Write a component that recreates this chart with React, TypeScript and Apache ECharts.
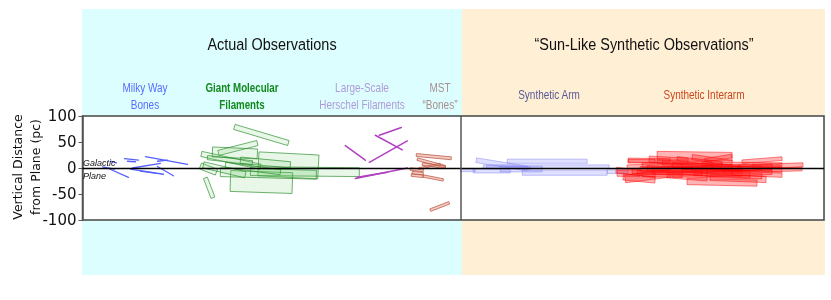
import { useEffect, useRef } from "react";
import * as echarts from "echarts";

// ---------- data ----------
const Y_MIN = -100;
const Y_MAX = 100;
const Y_STEP = 50;
const X_MIN = 0;
const X_MAX = 742;
const DIVIDER_X = 379;

// lines: [x1, y1, x2, y2]  (y in pc)
const milkyWayBones = [
  [28, 13, 34, 10],
  [42, 18, 56, 15],
  [45, 13, 53, 12],
  [63, 22, 105, 7],
  [75, 13, 85, 15],
  [26, -1, 46, -18],
  [48, -2, 81, -12],
  [50, 0, 78, 9],
  [75, 3, 91, -15],
  [58, -6, 73, -10],
  [20, 2, 32, -2],
];

const herschelFilaments = [
  [263, 43, 283, 15],
  [293, 63, 320, 35],
  [297, 63, 319, 78],
  [287, 11, 325, 52],
  [273, -20, 325, 0],
  [275, -18, 305, -8],
];

// rectangles: [x1, y1, x2, y2, thickness(pc)]
const giantMolecularFilaments = [
  [152, 79, 206, 48, 10],
  [176, 8, 236, 2, 46],
  [148, -25, 210, -29, 40],
  [123, -19, 130.5, -57, 8],
  [119, 27, 178, 2.5, 10],
  [136, 29, 175, 48, 10],
  [168, -6, 277, -8, 17],
  [138, -8, 234, -13, 17],
  [118, 4, 134, -8, 12],
  [130, 31, 175, 27, 19],
  [143, 6, 198, -8, 10],
  [121, 6, 163, -13, 12],
  [158, 15, 208, 6, 12],
  [125, 20, 170, 10, 8],
];

const mstBones = [
  [334, 25, 369, 18.6, 5.5],
  [335, 17, 363, 2.5, 5],
  [340, 7.7, 363, 1.3, 5],
  [328, -2, 341, -4.5, 5],
  [329, -13.5, 341, -16, 5],
  [341, -15.4, 361, -23, 4.5],
  [348, -81, 367, -67, 5],
  [336, -1.3, 358, 7.7, 3],
  [330, -9, 341, -11, 5],
];

const syntheticArm = [
  [394, 15, 445, -1, 9],
  [425, 13, 505, 13, 8],
  [401, 2.5, 527, 2.5, 7],
  [391, -6, 428, -6, 7],
  [418, -2, 460, -2, 11],
  [440, -9, 525, -9, 10],
  [378, -5, 393, -5, 4],
  [525, -7, 546, -7, 7],
  [404, 2, 448, 0, 5],
];

const syntheticInterarm = [
  [575, 24, 650, 22, 16],
  [546, 15, 588, 14, 8],
  [567, 17, 606, 13, 12],
  [610, 21, 650, 10, 10],
  [623, 15, 650, 23, 7],
  [670, 3, 721, 6, 8],
  [656, 3, 698, 3, 6],
  [605, -26, 675, -29, 12],
  [628, -18, 684, -22, 12],
  [543, -21, 588, -10, 15],
  [535, -10, 558, -10, 12],
  [558, -2, 658, -2, 10],
  [546, 13, 573, 13, 7],
  [534, -4, 573, -13, 11],
  [541, -17, 573, -23, 12],
  [560, 5, 640, 3, 10],
  [570, -6, 660, -10, 12],
  [580, 10, 660, 0, 8],
  [590, -12, 680, -16, 10],
  [600, 2, 700, -4, 9],
  [550, -6, 610, -2, 10],
  [620, 8, 700, 6, 8],
  [545, 2, 600, 5, 8],
  [640, -6, 720, -2, 7],
  [595, 18, 640, 8, 8],
  [612, -8, 668, -12, 14],
  [660, 12, 700, 18, 7],
  [585, -14, 625, -20, 10],
  [630, 0, 690, 2, 12],
  [600, -4, 650, -8, 8],
  [560, -12, 600, -14, 9],
  [650, -10, 700, -14, 8],
  [565, 0, 625, -6, 10],
  [590, 6, 650, 2, 9],
  [610, -2, 680, 0, 8],
  [555, -8, 620, -10, 8],
  [625, -12, 690, -8, 9],
  [575, 12, 630, 8, 7],
];

const SECTION_TITLES = ["Actual Observations", "\u201cSun-Like Synthetic Observations\u201d"];
const GROUP_LABELS = [
  "Milky Way\nBones",
  "Giant Molecular\nFilaments",
  "Large-Scale\nHerschel Filaments",
  "MST\n\u201cBones\u201d",
  "Synthetic Arm",
  "Synthetic Interarm",
];
const PLANE_LABELS = ["Galactic", "Plane"];
const Y_AXIS_TITLE = "Vertical Distance\nfrom Plane (pc)";

// ---------- layout / style ----------
const SANS = '"Liberation Sans", Arial, sans-serif';
const GROUP_LAYOUT = [
  { x: 145, y: 96.5, color: "#5a6cff", weight: "normal", sx: 0.8 },
  { x: 242, y: 96.5, color: "#138a1e", weight: "bold", sx: 0.78 },
  { x: 362, y: 96.5, color: "#b09ad8", weight: "normal", sx: 0.8 },
  { x: 440, y: 96, color: "#a89090", weight: "normal", sx: 0.8 },
  { x: 549, y: 95, color: "#5a5a9a", weight: "normal", sx: 0.8 },
  { x: 704, y: 95, color: "#c8481e", weight: "normal", sx: 0.8 },
];
const TITLE_LAYOUT = [
  { x: 272, y: 44 },
  { x: 644, y: 44 },
];

function lineItem(stroke: string, lw: number) {
  return (_p: any, api: any) => {
    const a = api.coord([api.value(0), api.value(1)]);
    const b = api.coord([api.value(2), api.value(3)]);
    return {
      type: "line",
      shape: { x1: a[0], y1: a[1], x2: b[0], y2: b[1] },
      style: { stroke, lineWidth: lw, lineCap: "round" },
    };
  };
}

function rectItem(fill: string, stroke: string, lw: number) {
  return (_p: any, api: any) => {
    const a = api.coord([api.value(0), api.value(1)]);
    const b = api.coord([api.value(2), api.value(3)]);
    const h = Math.abs(api.size([0, api.value(4)])[1]) / 2;
    const dx = b[0] - a[0];
    const dy = b[1] - a[1];
    const len = Math.hypot(dx, dy) || 1;
    const nx = (-dy / len) * h;
    const ny = (dx / len) * h;
    return {
      type: "polygon",
      shape: {
        points: [
          [a[0] + nx, a[1] + ny],
          [b[0] + nx, b[1] + ny],
          [b[0] - nx, b[1] - ny],
          [a[0] - nx, a[1] - ny],
        ],
      },
      style: { fill, stroke, lineWidth: lw },
    };
  };
}

function customSeries(name: string, data: number[][], renderItem: any, z: number) {
  return {
    type: "custom",
    name,
    data,
    z,
    silent: true,
    encode: { x: [0, 2], y: [1, 3] },
    renderItem,
  };
}

export default function App() {
  const ref = useRef<HTMLDivElement>(null);
  useEffect(() => {
    if (!ref.current) return;
    const chart = echarts.init(ref.current, null, { renderer: "svg" });
    const graphic: any[] = [
      { type: "rect", z: -10, shape: { x: 82, y: 9, width: 380, height: 266 }, style: { fill: "#dcfefe" } },
      { type: "rect", z: -10, shape: { x: 462, y: 9, width: 363, height: 266 }, style: { fill: "#fff0d5" } },
    ];
    SECTION_TITLES.forEach((t, i) => {
      graphic.push({
        type: "text",
        x: TITLE_LAYOUT[i].x,
        y: TITLE_LAYOUT[i].y,
        scaleX: 0.85,
        style: { text: t, fill: "#111", font: `17px ${SANS}`, textAlign: "center", textVerticalAlign: "middle" },
      });
    });
    GROUP_LABELS.forEach((t, i) => {
      const g = GROUP_LAYOUT[i];
      graphic.push({
        type: "text",
        x: g.x,
        y: g.y,
        scaleX: g.sx,
        style: {
          text: t,
          fill: g.color,
          font: `${g.weight} 12.5px ${SANS}`,
          lineHeight: 17,
          textAlign: "center",
          textVerticalAlign: "middle",
        },
      });
    });
    graphic.push({
      type: "text",
      x: 83,
      y: 163,
      z: 10,
      style: { text: PLANE_LABELS[0], fill: "#111", font: `italic 9px ${SANS}`, textAlign: "left", textVerticalAlign: "middle" },
    });
    graphic.push({
      type: "text",
      x: 83,
      y: 176,
      z: 10,
      style: { text: PLANE_LABELS[1], fill: "#111", font: `italic 9px ${SANS}`, textAlign: "left", textVerticalAlign: "middle" },
    });
    graphic.push({
      type: "text",
      x: 26,
      y: 167,
      rotation: Math.PI / 2,
      style: {
        text: Y_AXIS_TITLE,
        fill: "#111",
        font: "12.5px DejaVu Sans, sans-serif",
        lineHeight: 18,
        textAlign: "center",
        textVerticalAlign: "middle",
      },
    });

    chart.setOption({
      animation: false,
      grid: {
        left: 82.5,
        right: 7,
        top: 116,
        bottom: 80,
        show: true,
        backgroundColor: "#ffffff",
        borderColor: "#444",
        borderWidth: 1.5,
      },
      xAxis: {
        type: "value",
        min: X_MIN,
        max: X_MAX,
        show: false,
      },
      yAxis: {
        type: "value",
        min: Y_MIN,
        max: Y_MAX,
        interval: Y_STEP,
        axisLine: { show: true, lineStyle: { color: "#555", width: 1.5 } },
        axisTick: { show: true, length: 4, lineStyle: { color: "#555" } },
        axisLabel: { fontSize: 15, color: "#111", fontFamily: "DejaVu Sans, sans-serif", margin: 6 },
        splitLine: { show: false },
      },
      graphic,
      series: [
        customSeries("Giant Molecular Filaments", giantMolecularFilaments,
          rectItem("rgba(110,200,110,0.15)", "rgba(40,140,40,0.75)", 0.9), 2),
        customSeries("MST Bones", mstBones,
          rectItem("rgba(235,150,130,0.5)", "rgba(185,90,70,0.85)", 0.9), 3),
        customSeries("Synthetic Arm", syntheticArm,
          rectItem("rgba(150,150,255,0.3)", "rgba(120,120,240,0.55)", 0.8), 2),
        customSeries("Synthetic Interarm", syntheticInterarm,
          rectItem("rgba(255,30,30,0.33)", "rgba(255,0,0,0.6)", 0.8), 2),
        customSeries("Milky Way Bones", milkyWayBones, lineItem("#5560ff", 1.3), 4),
        customSeries("Herschel Filaments", herschelFilaments, lineItem("#b040c0", 1.5), 4),
        {
          type: "line",
          data: [],
          z: 5,
          markLine: {
            silent: true,
            symbol: "none",
            label: { show: false },
            animation: false,
            data: [
              { yAxis: 0, lineStyle: { color: "#000", width: 1.3, type: "solid" } },
              { xAxis: DIVIDER_X, lineStyle: { color: "#555", width: 1.5, type: "solid" } },
            ],
          },
        },
      ],
    });
    return () => chart.dispose();
  }, []);
  return <div ref={ref} style={{ position: "fixed", left: 0, top: 0, width: 831, height: 300 }} />;
}
